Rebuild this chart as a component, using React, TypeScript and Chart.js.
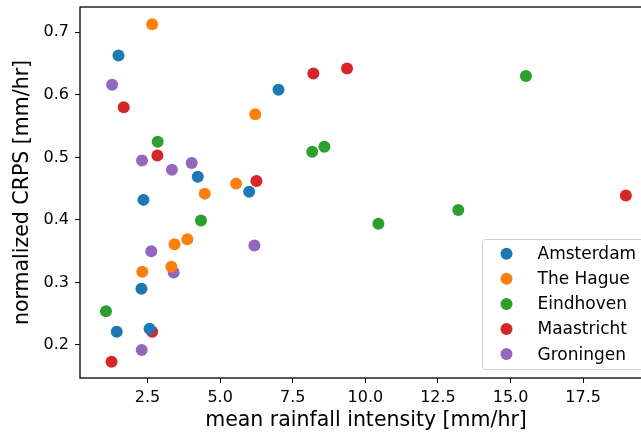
import React, { useEffect, useRef } from "react";
import { Chart, registerables } from "chart.js";

Chart.register(...registerables);

// ---- data ----
const seriesNames = ["Amsterdam", "The Hague", "Eindhoven", "Maastricht", "Groningen"];
const seriesColors = ["#1f77b4", "#ff7f0e", "#2ca02c", "#d62728", "#9467bd"];

const amsterdamX = [1.5, 4.23, 2.36, 2.29, 1.44, 2.57, 7.01, 6.0];
const amsterdamY = [0.663, 0.469, 0.432, 0.29, 0.221, 0.226, 0.608, 0.445];

const theHagueX = [2.66, 4.47, 3.43, 3.87, 2.32, 3.32, 6.21, 5.55];
const theHagueY = [0.713, 0.442, 0.361, 0.369, 0.317, 0.325, 0.569, 0.458];

const eindhovenX = [2.85, 4.34, 1.07, 8.17, 8.59, 15.53, 13.2, 10.45];
const eindhovenY = [0.525, 0.399, 0.254, 0.509, 0.517, 0.63, 0.416, 0.394];

const maastrichtX = [1.68, 2.84, 2.66, 1.26, 8.21, 9.37, 6.25, 18.97];
const maastrichtY = [0.58, 0.503, 0.221, 0.173, 0.634, 0.642, 0.462, 0.439];

const groningenX = [1.28, 2.31, 3.34, 4.02, 2.63, 3.4, 2.3, 6.18];
const groningenY = [0.616, 0.495, 0.48, 0.491, 0.35, 0.316, 0.192, 0.359];

const seriesX = [amsterdamX, theHagueX, eindhovenX, maastrichtX, groningenX];
const seriesY = [amsterdamY, theHagueY, eindhovenY, maastrichtY, groningenY];

const xTicks = [2.5, 5.0, 7.5, 10.0, 12.5, 15.0, 17.5];
const yTicks = [0.2, 0.3, 0.4, 0.5, 0.6, 0.7];
const xRange = [0.175, 19.87];
const yRange = [0.1472, 0.7404];

const xTitle = "mean rainfall intensity [mm/hr]";
const yTitle = "normalized CRPS [mm/hr]";

const FONT = "DejaVu Sans";

const framePlugin = {
  id: "frame",
  afterDatasetsDraw(chart: any) {
    const { ctx, chartArea } = chart;
    ctx.save();
    ctx.strokeStyle = "#000";
    ctx.lineWidth = 1.3;
    ctx.strokeRect(chartArea.left, chartArea.top, chartArea.right - chartArea.left, chartArea.bottom - chartArea.top);
    ctx.restore();
  },
};

const legendPlugin = {
  id: "mplLegend",
  afterDraw(chart: any) {
    const { ctx, chartArea } = chart;
    const w = 163;
    const h = 130;
    const right = chartArea.right - 6.5;
    const bottom = chartArea.bottom - 8.5;
    const left = right - w;
    const top = bottom - h;
    ctx.save();
    ctx.beginPath();
    const r = 3;
    ctx.moveTo(left + r, top);
    ctx.lineTo(right - r, top);
    ctx.arcTo(right, top, right, top + r, r);
    ctx.lineTo(right, bottom - r);
    ctx.arcTo(right, bottom, right - r, bottom, r);
    ctx.lineTo(left + r, bottom);
    ctx.arcTo(left, bottom, left, bottom - r, r);
    ctx.lineTo(left, top + r);
    ctx.arcTo(left, top, left + r, top, r);
    ctx.closePath();
    ctx.fillStyle = "rgba(255,255,255,0.8)";
    ctx.fill();
    ctx.strokeStyle = "#d0d0d0";
    ctx.lineWidth = 1;
    ctx.stroke();
    ctx.font = `17px "${FONT}"`;
    ctx.textBaseline = "middle";
    ctx.textAlign = "left";
    chart.data.datasets.forEach((ds: any, i: number) => {
      const cy = top + 14.2 + i * 25.1;
      ctx.beginPath();
      ctx.arc(left + 24, cy, 6, 0, Math.PI * 2);
      ctx.fillStyle = ds.backgroundColor;
      ctx.fill();
      ctx.fillStyle = "#000";
      ctx.fillText(ds.label, left + 55, cy + 1);
    });
    ctx.restore();
  },
};

export default function App() {
  const ref = useRef<HTMLCanvasElement | null>(null);
  useEffect(() => {
    if (!ref.current) return;
    const datasets = seriesNames.map((name, i) => ({
      label: name,
      data: seriesX[i].map((x, j) => ({ x, y: seriesY[i][j] })),
      backgroundColor: seriesColors[i],
      borderColor: seriesColors[i],
      pointRadius: 6,
      pointBorderWidth: 0,
      pointHoverRadius: 6,
    }));
    const tickFont = { family: FONT, size: 16 };
    const titleFont = { family: FONT, size: 20.5 };
    const chart = new Chart(ref.current, {
      type: "scatter",
      data: { datasets },
      plugins: [framePlugin, legendPlugin],
      options: {
        animation: false,
        responsive: false,
        maintainAspectRatio: false,
        layout: { padding: { top: 7, right: 8, left: 0, bottom: 0 } },
        plugins: { legend: { display: false }, tooltip: { enabled: false } },
        scales: {
          x: {
            type: "linear",
            min: xRange[0],
            max: xRange[1],
            afterBuildTicks: (scale: any) => {
              scale.ticks = xTicks.map((v) => ({ value: v }));
            },
            afterFit: (scale: any) => {
              scale.height = 59;
              scale.paddingLeft = 0;
              scale.paddingRight = 0;
            },
            ticks: {
              font: tickFont,
              color: "#000",
              padding: 5,
              maxRotation: 0,
              autoSkip: false,
              callback: (v: any) => Number(v).toFixed(1),
            },
            grid: { display: true, drawOnChartArea: false, drawTicks: true, tickLength: 5, color: "#000", lineWidth: 1 },
            border: { display: false },
            title: { display: true, text: xTitle, font: titleFont, color: "#000", padding: { top: 3.7, bottom: 3.7 } },
          },
          y: {
            type: "linear",
            min: yRange[0],
            max: yRange[1],
            afterBuildTicks: (scale: any) => {
              scale.ticks = yTicks.map((v) => ({ value: v }));
            },
            afterFit: (scale: any) => {
              scale.width = 80;
              scale.paddingTop = 0;
              scale.paddingBottom = 0;
            },
            ticks: {
              font: tickFont,
              color: "#000",
              padding: 6,
              autoSkip: false,
              callback: (v: any) => Number(v).toFixed(1),
            },
            grid: { display: true, drawOnChartArea: false, drawTicks: true, tickLength: 5, color: "#000", lineWidth: 1 },
            border: { display: false },
            title: { display: true, text: yTitle, font: titleFont, color: "#000", padding: { top: 10.7, bottom: 0 } },
          },
        },
      },
    } as any);
    return () => chart.destroy();
  }, []);
  return (
    <div style={{ position: "absolute", left: 0, top: 0, width: 641, height: 437, overflow: "hidden", background: "#fff" }}>
      <canvas ref={ref} width={660} height={437} style={{ display: "block", width: 660, height: 437 }} />
    </div>
  );
}
